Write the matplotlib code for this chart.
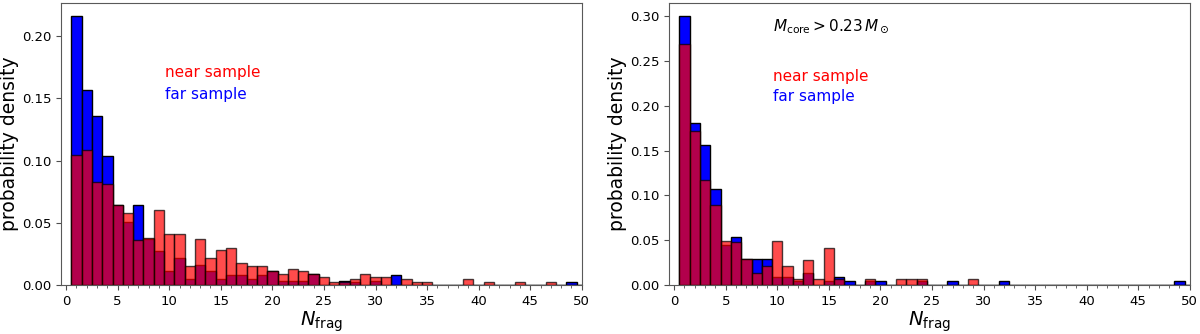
import numpy as np
import matplotlib.pyplot as plt
from matplotlib.ticker import MultipleLocator

# bins of width 1 centred on 1..50
n_frag = np.arange(1, 51)

# left panel: all cores
near_all = [0.1045, 0.1085, 0.083, 0.081, 0.064, 0.0576, 0.036, 0.038, 0.060, 0.041,
            0.041, 0.015, 0.037, 0.022, 0.028, 0.030, 0.0174, 0.015, 0.015, 0.011,
            0.0086, 0.013, 0.011, 0.0086, 0.0067, 0.002, 0.002, 0.0046, 0.0086, 0.0067,
            0.0067, 0, 0.0046, 0.002, 0.002, 0, 0, 0, 0.0046, 0,
            0.002, 0, 0, 0.002, 0, 0, 0.002, 0, 0, 0]
far_all = [0.216, 0.157, 0.136, 0.104, 0.064, 0.051, 0.064, 0.037, 0.027, 0.011,
           0.022, 0.005, 0.016, 0.011, 0.005, 0.008, 0.008, 0.005, 0.008, 0.011,
           0.003, 0.003, 0.003, 0.0086, 0, 0, 0.003, 0.002, 0, 0.003,
           0, 0.008, 0, 0, 0, 0, 0, 0, 0, 0,
           0, 0, 0, 0, 0, 0, 0, 0, 0.0027, 0]

# right panel: M_core > 0.23 Msun
near_big = [0.2695, 0.172, 0.117, 0.089, 0.0487, 0.048, 0.029, 0.0138, 0.021, 0.0487,
            0.021, 0.0063, 0.028, 0.0063, 0.041, 0.0063, 0, 0, 0.0065, 0,
            0, 0.0065, 0.0065, 0.0065, 0, 0, 0, 0, 0.0065, 0,
            0, 0, 0, 0, 0, 0, 0, 0, 0, 0,
            0, 0, 0, 0, 0, 0, 0, 0, 0, 0]
far_big = [0.300, 0.181, 0.156, 0.1067, 0.045, 0.054, 0.029, 0.029, 0.029, 0.0086,
           0.0086, 0.0045, 0.013, 0, 0.0045, 0.0086, 0.0045, 0, 0.0045, 0.0045,
           0, 0, 0, 0.0045, 0, 0, 0.0045, 0, 0, 0,
           0, 0.0045, 0, 0, 0, 0, 0, 0, 0, 0,
           0, 0, 0, 0, 0, 0, 0, 0, 0.0045, 0]

edges = np.arange(0.5, 51.5, 1)

fig = plt.figure(figsize=(12, 3.34), dpi=100)
ax1 = fig.add_axes([0.0508, 0.147, 0.434, 0.844])
ax2 = fig.add_axes([0.5575, 0.147, 0.434, 0.844])

for ax, near, far in [(ax1, near_all, far_all), (ax2, near_big, far_big)]:
    ax.hist(n_frag, bins=edges, weights=far, color="blue", edgecolor="black", lw=1)
    ax.hist(n_frag, bins=edges, weights=near, color="red", alpha=0.7,
            edgecolor="black", lw=1)
    ax.set_xlim(-0.5, 50)
    ax.xaxis.set_major_locator(MultipleLocator(5))
    ax.xaxis.set_minor_locator(MultipleLocator(1))
    ax.tick_params(axis="both", which="major", labelsize=9.5, length=3.5, color="0.3")
    ax.tick_params(axis="x", which="minor", length=2, color="0.3")
    for s in ax.spines.values():
        s.set_color("0.35")
    ax.set_ylabel("probability density", fontsize=13.5, labelpad=2)
    ax.set_xlabel(r"$N_{\rm frag}$", fontsize=14, labelpad=1)

ax1.text(0.2, 0.752, "near sample", color="red", fontsize=11,
         transform=ax1.transAxes, va="center")
ax1.text(0.2, 0.674, "far sample", color="blue", fontsize=11,
         transform=ax1.transAxes, va="center")

ax2.text(0.2, 0.918, r"$M_{\rm core} > 0.23\,M_\odot$", fontsize=11,
         transform=ax2.transAxes, va="center")
ax2.text(0.2, 0.738, "near sample", color="red", fontsize=11,
         transform=ax2.transAxes, va="center")
ax2.text(0.2, 0.67, "far sample", color="blue", fontsize=11,
         transform=ax2.transAxes, va="center")

fig.savefig("out.png", dpi=100)
